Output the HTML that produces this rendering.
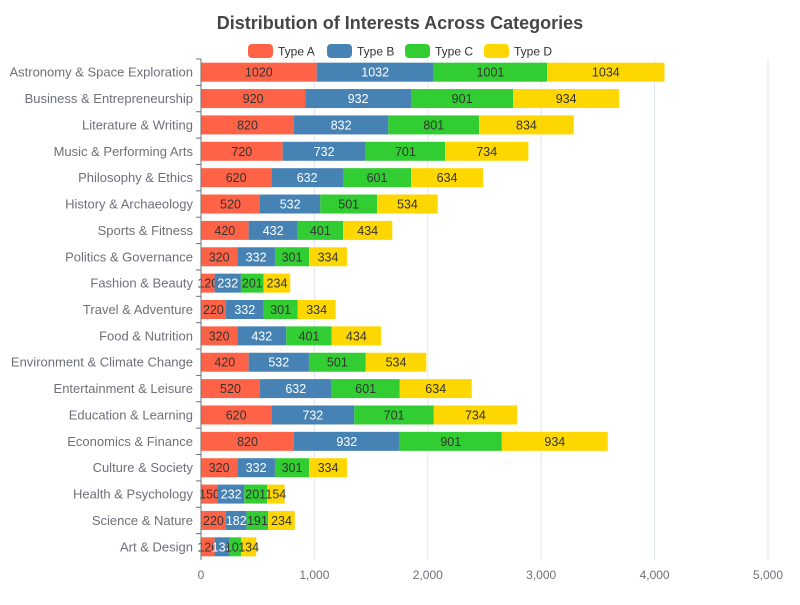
<!DOCTYPE html>
<html><head><meta charset="utf-8"><style>
body{margin:0;background:#fff;font-family:"Liberation Sans","DejaVu Sans",sans-serif}
</style></head><body>
<svg id="c" width="800" height="600" xmlns="http://www.w3.org/2000/svg">
<text x="400" y="29" text-anchor="middle" font-size="18" font-weight="bold" fill="#464646">Distribution of Interests Across Categories</text>
<g id="legend"></g><g id="grid"></g><g id="bars"></g><g id="axes"></g>
</svg>
<script>
const categories=["Astronomy & Space Exploration","Business & Entrepreneurship","Literature & Writing","Music & Performing Arts","Philosophy & Ethics","History & Archaeology","Sports & Fitness","Politics & Governance","Fashion & Beauty","Travel & Adventure","Food & Nutrition","Environment & Climate Change","Entertainment & Leisure","Education & Learning","Economics & Finance","Culture & Society","Health & Psychology","Science & Nature","Art & Design"];
const typeA=[1020,920,820,720,620,520,420,320,120,220,320,420,520,620,820,320,150,220,120];
const typeB=[1032,932,832,732,632,532,432,332,232,332,432,532,632,732,932,332,232,182,132];
const typeC=[1001,901,801,701,601,501,401,301,201,301,401,501,601,701,901,301,201,191,101];
const typeD=[1034,934,834,734,634,534,434,334,234,334,434,534,634,734,934,334,154,234,134];
const seriesNames=["Type A","Type B","Type C","Type D"];
const ticks=[0,1000,2000,3000,4000,5000];
const tickLabels=["0","1,000","2,000","3,000","4,000","5,000"];
const NS="http://www.w3.org/2000/svg";
const colors=["#ff6347","#4682b4","#32cd32","#ffd700"];
const textColors=["#333","#fff","#333","#333"];
const x0=201,x1=768,yTop=59,yBot=560,maxV=5000;
const xs=v=>x0+(x1-x0)*v/maxV;
const band=(yBot-yTop)/categories.length;
const yc=i=>yTop+band*(i+0.5);
function el(t,a,p){const e=document.createElementNS(NS,t);for(const k in a)e.setAttribute(k,a[k]);p.appendChild(e);return e;}
const grid=document.getElementById('grid'),bars=document.getElementById('bars'),axes=document.getElementById('axes'),legend=document.getElementById('legend');
ticks.forEach((t,i)=>{
 if(t>0){const g=el('line',{x1:xs(t),x2:xs(t),y1:yTop,y2:yBot,stroke:'#e0e6f1'},grid);
 
 }
 const tl=el('text',{x:xs(t),y:yBot+19,'text-anchor':'middle','font-size':12,fill:'#6e7079'},axes);
 tl.textContent=tickLabels[i];
 
 
});
const ax=el('line',{x1:x0,x2:x0,y1:yTop,y2:yBot,stroke:'#6e7079'},axes);


const series=[typeA,typeB,typeC,typeD];
categories.forEach((c,i)=>{
 const y=yc(i);
 const tk=el('line',{x1:x0-5,x2:x0,y1:yTop+band*i,y2:yTop+band*i,stroke:'#6e7079'},axes);
 
 
 const lb=el('text',{x:x0-8,y:y+4.5,'text-anchor':'end','font-size':13,fill:'#6e7079'},axes);
 lb.textContent=c;
 
 
 let acc=0;
 series.forEach((s,k)=>{
  const v=s[i];
  const r=el('rect',{x:xs(acc),y:y-9.5,width:xs(acc+v)-xs(acc),height:19,fill:colors[k]},bars);
  
  
  const t=el('text',{x:(xs(acc)+xs(acc+v))/2,y:y+4.5,'text-anchor':'middle','font-size':12.5,fill:textColors[k]},bars);
  t.textContent=v;
  
  
  acc+=v;
 });
});
const lx=[248,327,405,484];
seriesNames.forEach((n,k)=>{
 const g=el('g',{},legend);
 
 
 el('rect',{x:lx[k],y:44,width:25,height:14,rx:4,fill:colors[k]},g);
 const t=el('text',{x:lx[k]+30,y:55.5,'font-size':12,fill:'#333'},g);
 t.textContent=n;
});
</script>
</body></html>
